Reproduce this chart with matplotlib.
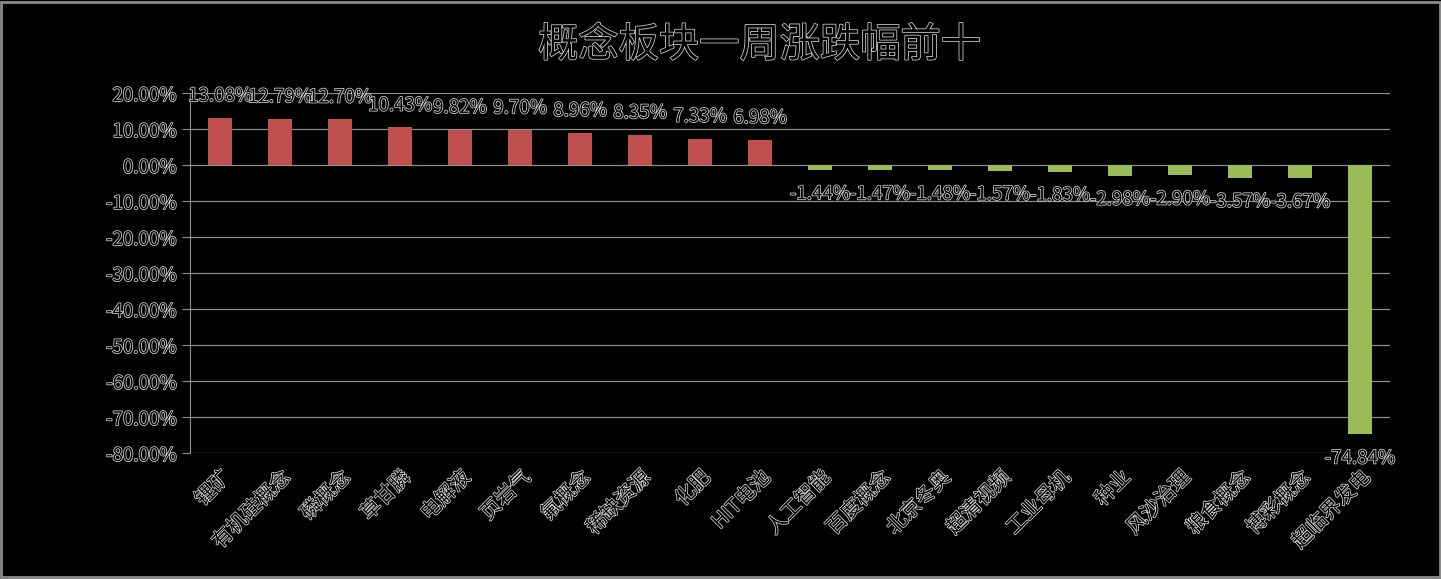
import matplotlib
matplotlib.use('Agg')
import matplotlib.pyplot as plt
import matplotlib.patheffects as pe
from matplotlib.patches import Rectangle
from matplotlib.ticker import FuncFormatter

plt.rcParams['font.family'] = ['Noto Sans CJK SC', 'DejaVu Sans']
plt.rcParams['axes.unicode_minus'] = False

# 概念板块一周涨跌幅
categories = ['锂矿', '有机硅概念', '磷概念', '草甘膦', '电解液', '页岩气', '氟概念', '稀缺资源',
              '化肥', 'HIT电池', '人工智能', '百度概念', '北京冬奥', '超清视频', '工业母机',
              '种业', '风沙治理', '粮食概念', '博彩概念', '超临界发电']
changes = [13.08, 12.79, 12.70, 10.43, 9.82, 9.70, 8.96, 8.35, 7.33, 6.98,
           -1.44, -1.47, -1.48, -1.57, -1.83, -2.98, -2.90, -3.57, -3.67, -74.84]
yticks = [20, 10, 0, -10, -20, -30, -40, -50, -60, -70, -80]

outline = [pe.withStroke(linewidth=1.1, foreground='#d8d8d8')]
txt_kw = dict(color='black', path_effects=outline)

fig = plt.figure(figsize=(14.41, 5.79), dpi=100, facecolor='black')
ax = fig.add_axes([0.1319, 0.2176, 0.8327, 0.6218])
ax.set_facecolor('black')

colors = ['#c0504d' if v >= 0 else '#9bbb59' for v in changes]
x = range(len(categories))
bars = ax.bar(x, changes, width=0.4, color=colors, zorder=3)

for xi, v in zip(x, changes):
    off = 16 if v >= 0 else -17
    ax.annotate(f'{v:.2f}%', (xi, v), xytext=(0, off), textcoords='offset points',
                ha='center', va='center', fontsize=13.5, **txt_kw)

ax.set_xlim(-0.5, 19.5)
ax.set_ylim(-80, 20)
ax.set_yticks(yticks)
ax.yaxis.set_major_formatter(FuncFormatter(lambda v, p: f'{v:.2f}%'))
ax.grid(axis='y', color='#8c8c8c', linewidth=0.9, zorder=0)
ax.set_axisbelow(True)

ax.set_xticks(list(x))
ax.set_xticklabels(categories, rotation=45, ha='right', rotation_mode='anchor', fontsize=14.5)
for t in ax.get_xticklabels():
    t.set_color('black')
    t.set_path_effects(outline)
for t in ax.get_yticklabels():
    t.set_color('black')
    t.set_path_effects(outline)
    t.set_fontsize(13.5)

ax.tick_params(axis='x', length=0, pad=10)
ax.tick_params(axis='y', length=6, color='#8c8c8c', pad=4)
for s in ['top', 'right', 'bottom']:
    ax.spines[s].set_visible(False)
ax.spines['left'].set_color('#8c8c8c')

fig.text(0.527, 0.922, '概念板块一周涨跌幅前十', ha='center', va='center', fontsize=29, **txt_kw)

fig.patches.append(Rectangle((0.001, 0.003), 0.998, 0.994, transform=fig.transFigure,
                             fill=False, edgecolor='#8c8c8c', linewidth=2))

fig.savefig('out.png', dpi=100, facecolor='black')
